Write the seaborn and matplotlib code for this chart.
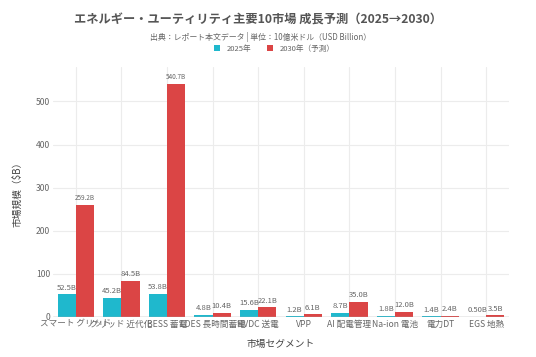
import matplotlib
matplotlib.use("Agg")
import matplotlib.pyplot as plt
import seaborn as sns
import pandas as pd
from matplotlib.patches import Patch

categories = ["スマート グリッド", "グリッド 近代化", "BESS 蓄電", "LDES 長時間蓄電", "HVDC 送電",
              "VPP", "AI 配電管理", "Na-ion 電池", "電力DT", "EGS 地熱"]
values_2025 = [52.5, 45.2, 53.8, 4.8, 15.6, 1.2, 8.7, 1.8, 1.4, 0.5]
values_2030 = [259.2, 84.5, 540.7, 10.4, 22.1, 6.1, 35.0, 12.0, 2.4, 3.5]
labels_2025 = ["52.5B", "45.2B", "53.8B", "4.8B", "15.6B", "1.2B", "8.7B", "1.8B", "1.4B", "0.50B"]
labels_2030 = ["259.2B", "84.5B", "540.7B", "10.4B", "22.1B", "6.1B", "35.0B", "12.0B", "2.4B", "3.5B"]
series = ["2025年", "2030年（予測）"]
colors = ["#1FB8CD", "#DB4545"]

sns.set_theme(style="whitegrid")
plt.rcParams['font.family'] = ['Noto Sans CJK JP', 'DejaVu Sans']

df = pd.DataFrame({
    "cat": categories * 2,
    "val": values_2025 + values_2030,
    "series": [series[0]] * len(categories) + [series[1]] * len(categories),
})

fig = plt.figure(figsize=(5.36, 3.57), dpi=100)
ax = fig.add_axes([53/536, 1 - 317/357, (509 - 53)/536, (317 - 67)/357])

sns.barplot(data=df, x="cat", y="val", hue="series", palette=colors, width=0.8,
            saturation=1, ax=ax, legend=False, edgecolor="none")

ax.set_xlim(-0.5, 9.5)
ax.set_ylim(0, 580)
ax.set_yticks([0, 100, 200, 300, 400, 500])
ax.grid(True, color="#ececec", linewidth=0.8)
ax.set_axisbelow(True)
for s in ax.spines.values():
    s.set_visible(False)
ax.axhline(0, color="#aaaaaa", linewidth=1.0, zorder=3)

tick_color = "#666666"
ax.tick_params(axis="both", length=0, labelsize=6.2, colors=tick_color, pad=2)
ax.set_xlabel("市場セグメント", fontsize=7, color="#444444", labelpad=7)
ax.set_ylabel("市場規模（$B）", fontsize=7, color="#444444", labelpad=10)

for cont, labs in zip(ax.containers, [labels_2025, labels_2030]):
    texts = ax.bar_label(cont, labels=labs, padding=2, fontsize=5.5, color="#666666")
    for t, l in zip(texts, labs):
        if len(l) > 5:
            t.set_fontsize(4.6)

fig.text(0.481, 1 - 20/357, "エネルギー・ユーティリティ主要10市場 成長予測（2025→2030）",
         ha="center", va="center", fontsize=8.8, fontweight="bold", color="#555555")
fig.text(0.486, 1 - 37.5/357, "出典：レポート本文データ | 単位：10億米ドル（USD Billion）",
         ha="center", va="center", fontsize=5.7, color="#666666")

handles = [Patch(facecolor=c, edgecolor="none") for c in colors]
fig.legend(handles, series, loc="center", bbox_to_anchor=(0.512, 1 - 49/357), ncol=2,
           frameon=False, fontsize=5.5, handlelength=0.8, handleheight=0.8,
           columnspacing=2.0, handletextpad=0.9, labelcolor="#666666", borderpad=0)

fig.savefig("out.png", dpi=100, facecolor="white")
